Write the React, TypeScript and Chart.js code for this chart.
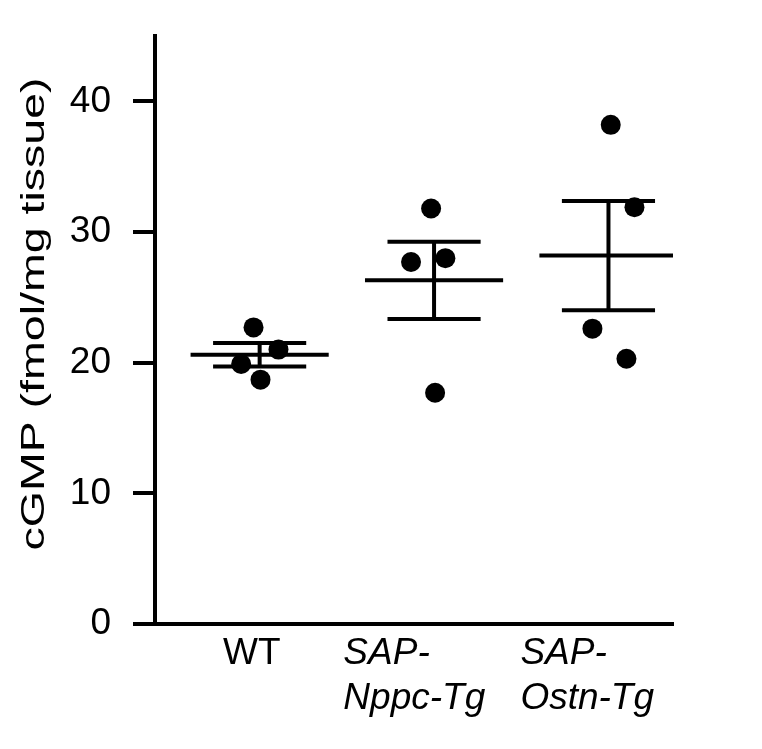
import React, { useEffect, useRef } from 'react';
import { Chart, registerables } from 'chart.js';

Chart.register(...registerables);

// ---- data ----
const GROUP_LABELS: string[][] = [['WT'], ['SAP-', 'Nppc-Tg'], ['SAP-', 'Ostn-Tg']];
const GROUP_X = [1, 2, 3];

const WT_VALUES = [22.7, 21.0, 19.9, 18.7];
const WT_JITTER = [-0.035, 0.108, -0.106, 0.005];
const NPPC_VALUES = [31.8, 27.7, 28.0, 17.7];
const NPPC_JITTER = [-0.017, -0.132, 0.065, 0.006];
const OSTN_VALUES = [38.2, 31.9, 22.6, 20.3];
const OSTN_JITTER = [0.013, 0.149, -0.092, 0.103];

const MEANS = [20.6, 26.3, 28.2];
const SEMS = [0.9, 2.96, 4.18];

const Y_TICKS = [0, 10, 20, 30, 40];
const Y_TITLE = 'cGMP (fmol/mg tissue)';

// ---- layout constants ----
const MEAN_HALF = 0.396;
const CAP_HALF = 0.267;
const LABEL_SHIFT = [-0.21, -0.52, -0.505];
const TITLE_STRETCH = 1.41;
const TITLE_SHIFT = -16;
const FONT = '"Liberation Sans", Arial, Helvetica, sans-serif';

const stretchTitlePlugin = {
  id: 'stretchTitle',
  beforeDraw(chart: any) {
    const s: any = chart.scales.y;
    if (!s || s.__stretched) return;
    const orig = s.drawTitle.bind(s);
    s.drawTitle = function () {
      const ctx = s.ctx;
      const cy = (s.top + s.bottom) / 2;
      ctx.save();
      ctx.translate(0, cy + TITLE_SHIFT);
      ctx.scale(1, TITLE_STRETCH);
      ctx.translate(0, -cy);
      orig();
      ctx.restore();
    };
    s.__stretched = true;
  },
};

export default function App() {
  const ref = useRef<HTMLCanvasElement | null>(null);

  useEffect(() => {
    if (!ref.current) return;
    const groups = [
      { values: WT_VALUES, jitter: WT_JITTER },
      { values: NPPC_VALUES, jitter: NPPC_JITTER },
      { values: OSTN_VALUES, jitter: OSTN_JITTER },
    ];

    const lineDs = (pts: { x: number; y: number }[]) => ({
      type: 'line' as const,
      data: pts,
      borderColor: '#000',
      borderWidth: 4,
      pointRadius: 0,
      pointHoverRadius: 0,
      fill: false,
      tension: 0,
      borderCapStyle: 'butt' as const,
      order: 1,
    });

    const datasets: any[] = [];
    groups.forEach((g, gi) => {
      const c = GROUP_X[gi];
      const m = MEANS[gi];
      const s = SEMS[gi];
      datasets.push(lineDs([{ x: c - MEAN_HALF, y: m }, { x: c + MEAN_HALF, y: m }]));
      datasets.push(lineDs([{ x: c - CAP_HALF, y: m + s }, { x: c + CAP_HALF, y: m + s }]));
      datasets.push(lineDs([{ x: c - CAP_HALF, y: m - s }, { x: c + CAP_HALF, y: m - s }]));
      datasets.push(lineDs([{ x: c, y: m - s }, { x: c, y: m + s }]));
      datasets.push({
        type: 'scatter',
        data: g.values.map((v, i) => ({ x: c + g.jitter[i], y: v })),
        pointRadius: 10,
        pointHoverRadius: 10,
        pointBackgroundColor: '#000',
        pointBorderWidth: 0,
        showLine: false,
        order: 0,
      });
    });

    const chart = new Chart(ref.current, {
      type: 'scatter',
      data: { datasets },
      plugins: [stretchTitlePlugin],
      options: {
        responsive: false,
        animation: false,
        devicePixelRatio: 1,
        layout: { padding: { top: 36, right: 89, bottom: 0, left: 0 } },
        plugins: { legend: { display: false }, tooltip: { enabled: false } },
        scales: {
          x: {
            type: 'linear',
            min: 0.4,
            max: 3.37,
            afterBuildTicks: (scale: any) => {
              scale.ticks = GROUP_X.map((c, i) => ({ value: c + LABEL_SHIFT[i] }));
            },
            afterFit: (scale: any) => {
              scale.height = 125;
              scale.paddingLeft = 0;
              scale.paddingRight = 0;
            },
            grid: { display: false, drawTicks: false },
            border: { display: true, width: 4, color: '#000' },
            ticks: {
              autoSkip: false,
              maxRotation: 0,
              minRotation: 0,
              align: 'start',
              padding: 7.4,
              color: '#000',
              font: (ctx: any) => ({
                family: FONT,
                size: 37,
                lineHeight: 1.22,
                style: ctx.index === 0 ? 'normal' : 'italic',
              }),
              callback: (_v: any, i: number) => GROUP_LABELS[i],
            },
          },
          y: {
            type: 'linear',
            min: 0,
            max: 45,
            afterBuildTicks: (scale: any) => {
              scale.ticks = Y_TICKS.map((v) => ({ value: v }));
            },
            afterFit: (scale: any) => {
              scale.width = 155;
              scale.paddingTop = 0;
              scale.paddingBottom = 0;
            },
            grid: {
              drawOnChartArea: false,
              drawTicks: true,
              tickLength: 22,
              tickWidth: 4,
              tickColor: '#000',
              color: '#000',
              lineWidth: 4,
            },
            border: { display: true, width: 4, color: '#000' },
            ticks: {
              padding: 22,
              color: '#000',
              font: { family: FONT, size: 37 },
              callback: (v: any) => String(v),
            },
            title: {
              display: true,
              text: Y_TITLE,
              color: '#000',
              font: { family: FONT, size: 33, lineHeight: 1.2 },
              padding: { top: 15, bottom: 0 },
            },
          },
        },
      } as any,
    });

    return () => chart.destroy();
  }, []);

  return (
    <div style={{ position: 'absolute', left: 0, top: 0, width: 762, height: 749, background: '#fff' }}>
      <canvas ref={ref} width={762} height={749} style={{ display: 'block' }} />
    </div>
  );
}
